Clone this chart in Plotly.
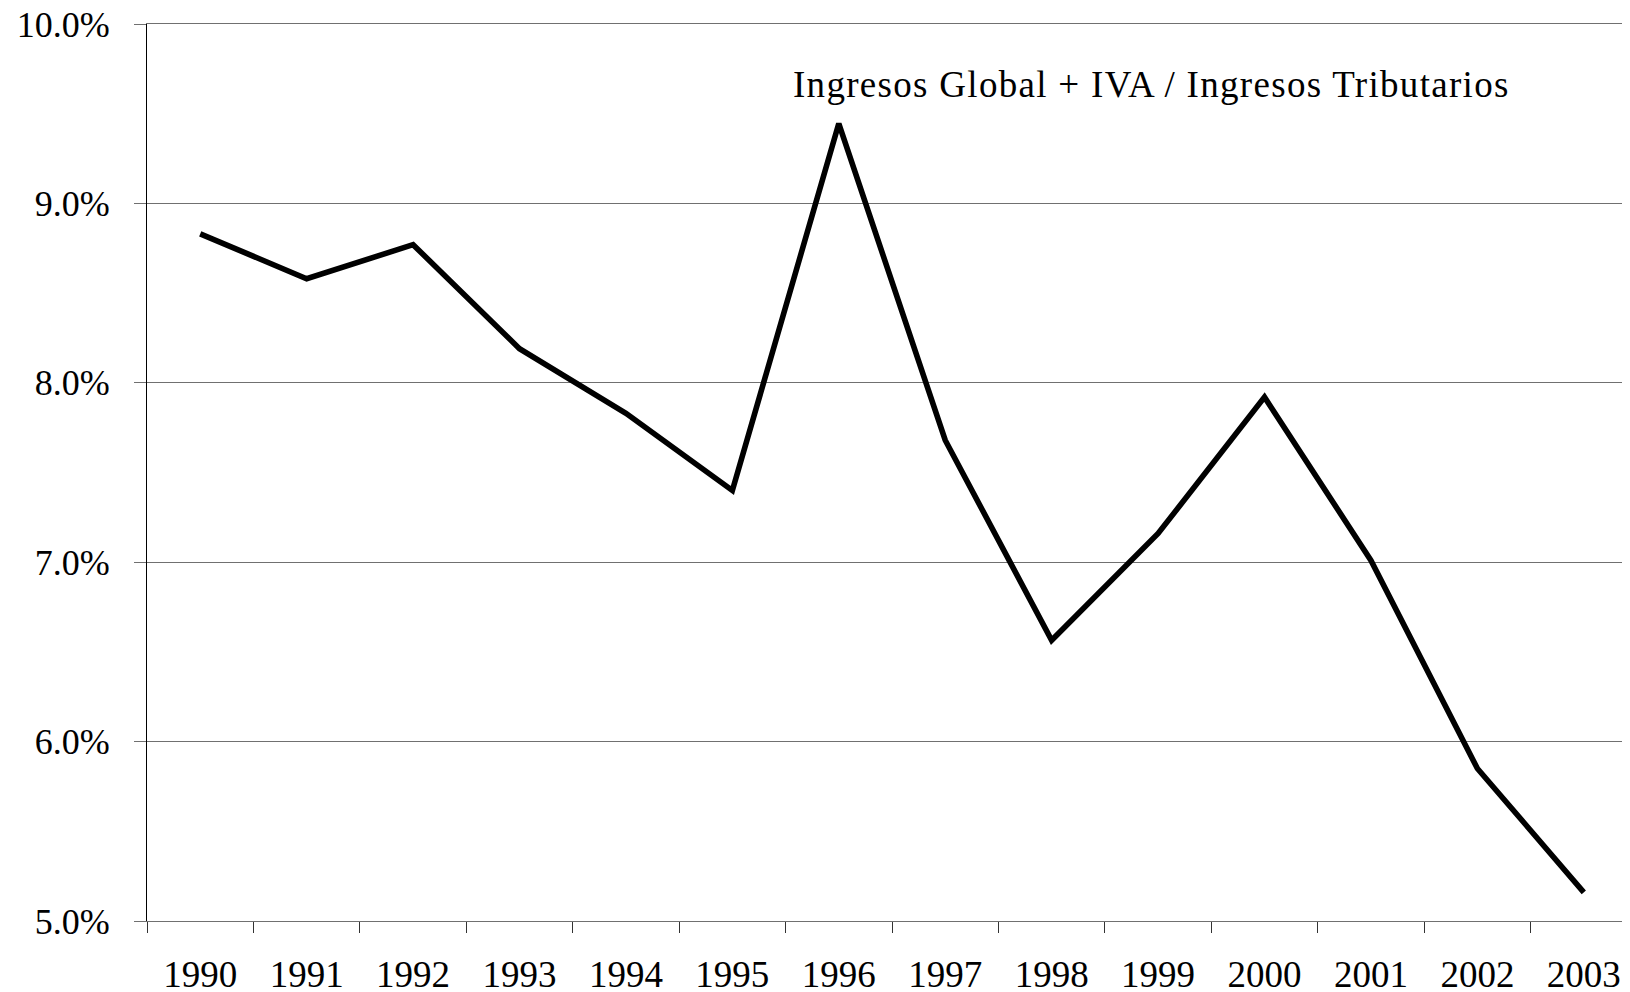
import plotly.graph_objects as go

years = ["1990", "1991", "1992", "1993", "1994", "1995", "1996",
         "1997", "1998", "1999", "2000", "2001", "2002", "2003"]
ratio_pct = [8.83, 8.58, 8.77, 8.19, 7.83, 7.40, 9.445,
             7.68, 6.565, 7.16, 7.92, 7.01, 5.85, 5.16]
y_ticks = [5.0, 6.0, 7.0, 8.0, 9.0, 10.0]
y_tick_labels = ["5.0%", "6.0%", "7.0%", "8.0%", "9.0%", "10.0%"]
label_text = "Ingresos Global + IVA / Ingresos Tributarios"

FONT = "Liberation Serif, Times New Roman, serif"

fig = go.Figure()
fig.add_trace(go.Scatter(
    x=years, y=ratio_pct, mode="lines",
    line=dict(color="black", width=5.6),
    showlegend=False, hoverinfo="skip",
))

fig.add_annotation(
    x=8.94, y=9.664, xref="x", yref="y",
    text='<span style="letter-spacing:1.3px">' + label_text + '</span>',
    showarrow=False,
    xanchor="center", yanchor="middle",
    font=dict(family=FONT, size=37, color="black"),
)

# page body has an 8px default margin, so the figure is sized 8px smaller
fig.update_layout(
    width=1622, height=984,
    margin=dict(l=139, r=0, t=16, b=71, pad=0, autoexpand=False),
    paper_bgcolor="white", plot_bgcolor="white",
    font=dict(family=FONT, size=36, color="black"),
)

fig.update_xaxes(
    type="category", range=[-0.5, 13.434],
    automargin=False,
    showgrid=False, zeroline=False,
    showline=True, mirror=True, linecolor="#707070", linewidth=1.2,
    ticks="outside", ticklen=11, tickcolor="#333333", tickwidth=1,
    tickson="boundaries",
    tickfont=dict(family=FONT, size=37, color="black"),
    ticklabelstandoff=20,
    ticklabeloverflow="allow",
)

fig.update_yaxes(
    range=[5.0, 10.0], tickvals=y_ticks, ticktext=y_tick_labels,
    automargin=False,
    showgrid=True, gridcolor="#707070", gridwidth=1.2,
    zeroline=False,
    showline=True, linecolor="black", linewidth=1.2,
    ticks="outside", ticklen=12, tickcolor="#707070", tickwidth=1.2,
    tickfont=dict(family=FONT, size=36, color="black"),
    ticklabelstandoff=17,
    ticklabeloverflow="allow",
)

fig.write_html("out.html")
